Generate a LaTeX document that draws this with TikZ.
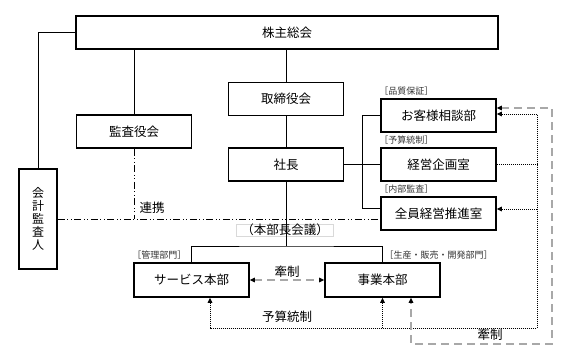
\documentclass[tikz,border=0pt]{standalone}
\usepackage{fontspec}
\setmainfont{Noto Sans CJK JP}
\usepackage{tikz}
\usetikzlibrary{calc, positioning, arrows.meta}
\usepackage{xcolor}
\definecolor{kenseigray}{RGB}{168, 168, 168}

\tikzset{
  box/.style={draw, line width=1.6pt, inner sep=0pt, minimum width=115pt, minimum height=33pt, font=\fontsize{12.5}{14}\selectfont},
  tag/.style={inner sep=1pt, font=\fontsize{9}{10}\selectfont, text=black!80},
  lbl/.style={inner sep=1pt, font=\fontsize{12.5}{14}\selectfont},
  link/.style={line width=1pt},
  renkei/.style={line width=1pt, dash pattern=on 7pt off 2.5pt on 1pt off 2.5pt on 1pt off 2.5pt},
  yosan/.style={line width=1pt, dash pattern=on 1pt off 1pt},
  kensei/.style={line width=1.5pt, kenseigray, dash pattern=on 8pt off 5pt},
}

\begin{document}
\begin{tikzpicture}[x=1pt, y=-1pt, >={Triangle[length=5pt, width=4.5pt, color=black]}]
  \useasboundingbox (0, 0) rectangle (574, 364);

  \node[box, minimum width=422pt] (soukai) at (287, 32.5) {株主総会};
  \node[box] (kansayaku) at (134, 131.5) {監査役会};
  \node[box] (torishimari) at (286, 99) {取締役会};
  \node[box] (shacho) at (286, 164.5) {社長};
  \node[box, minimum width=38pt, minimum height=100pt, align=center, font=\fontsize{12}{13}\selectfont] (kaikei) at (38, 219) {会\\計\\監\\査\\人};

  \node[box] (okyaku) at (438.5, 115.5) {お客様相談部};
  \node[box] (keiei) at (438.5, 164.5) {経営企画室};
  \node[box] (zenin) at (438.5, 213.5) {全員経営推進室};
  \node[box, minimum height=34pt] (service) at (191.5, 280) {サービス本部};
  \node[box, minimum height=34pt] (jigyo) at (382.5, 280) {事業本部};

  % bracket tags
  \node[tag, above right=1.5pt and -2pt of okyaku.north west] (tag1) {［品質保証］};
  \node[tag, above right=1.5pt and -2pt of keiei.north west] (tag2) {［予算統制］};
  \node[tag, above right=1.5pt and -2pt of zenin.north west] (tag3) {［内部監査］};
  \node[tag, above right=1.5pt and -2pt of service.north west] (tag4) {［管理部門］};
  \node[tag, above right=1.5pt and 1pt of jigyo.north] (tag5) {［生産・販売・開発部門］};

  \node[lbl] (renkeilbl) at (152, 208) {連携};
  \node[lbl] (yosanlbl) at (287, 317) {予算統制};
  \node[lbl] (kenseilbl) at (490, 335) {牽制};
  \node[lbl, draw=black!15, line width=0.6pt, inner sep=0pt, minimum width=97pt, text height=10pt, text depth=2.5pt] (kaigi) at (285, 230.5) {（本部長会議）};

  \coordinate (br) at (362, 0);
  \coordinate (hb) at (286, 246);
  \coordinate (yb) at (537, 328);
  \coordinate (kb) at (552, 344);

  % solid lines
  \draw[link] (soukai.west) -| (kaikei.north);
  \draw[link] (kansayaku.north) -- (kansayaku.north |- soukai.south);
  \draw[link] (torishimari.north) -- (torishimari.north |- soukai.south);
  \draw[link] (torishimari.south) -- (shacho.north);
  \draw[link] (shacho.east) -- (shacho.east -| br);
  \draw[link] (okyaku.west) -| ([yshift=5.5pt]zenin.west -| br) -- ([yshift=5.5pt]zenin.west);
  \draw[link] (keiei.west) -- (keiei.west -| br);
  \draw[link] (shacho.south) -- (hb);
  \draw[link] (service.north) |- (hb) -| (jigyo.north);

  % dash-dot
  \draw[renkei] (kaikei.east) -- (kaikei.east -| zenin.west);
  \draw[renkei] (kansayaku.south) -- (kansayaku.south |- kaikei.east);

  % dotted
  \draw[yosan] (keiei.east) -- (keiei.east -| yb);
  \draw[yosan, <->] ([yshift=1.5pt]okyaku.east) -| (yb) -| ([xshift=18.5pt]service.south);
  \draw[yosan, ->] ([yshift=4.5pt]zenin.east -| yb) -- ([yshift=4.5pt]zenin.east);
  \draw[yosan, ->] (yb -| jigyo.south) -- (jigyo.south);

  % gray dashed
  \draw[kensei, <->] (service.east) -- (jigyo.west) node[lbl, midway, above=1pt, text=black] (kensei2) {牽制};
  \draw[kensei, <->] ([yshift=7.5pt]okyaku.east) -| (kb) -| ([xshift=28.5pt]jigyo.south);
\end{tikzpicture}
\end{document}
